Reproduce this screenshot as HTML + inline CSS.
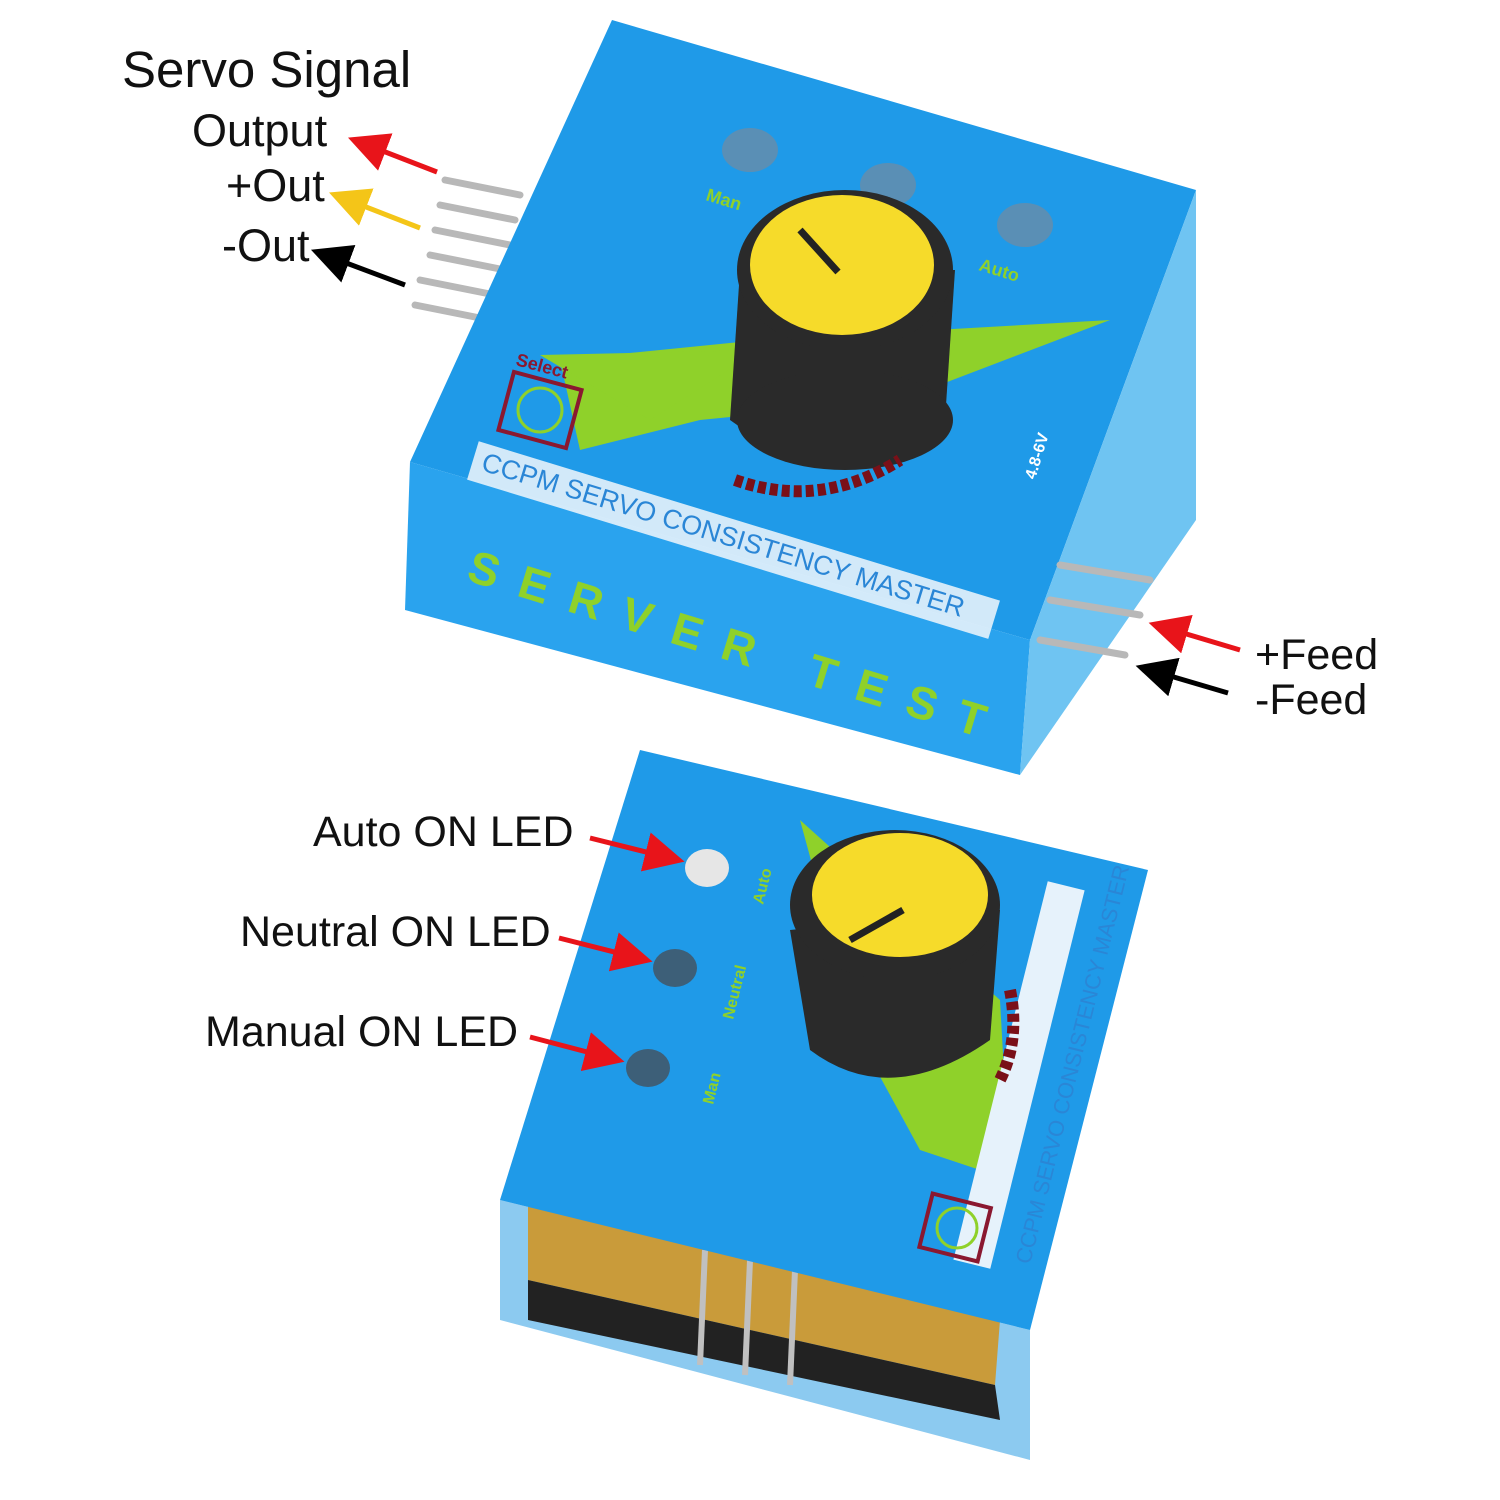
<!DOCTYPE html>
<html><head><meta charset="utf-8"><style>
html,body{margin:0;padding:0;background:#fff}
svg{display:block}
text{font-family:"Liberation Sans",sans-serif}
</style></head><body>
<svg width="1500" height="1500" viewBox="0 0 1500 1500" xmlns="http://www.w3.org/2000/svg">
<defs>
<marker id="ar" markerWidth="8" markerHeight="8" refX="5" refY="4" orient="auto"><path d="M0,0 L8,4 L0,8 z" fill="#e8141a"/></marker>
<marker id="ay" markerWidth="8" markerHeight="8" refX="5" refY="4" orient="auto"><path d="M0,0 L8,4 L0,8 z" fill="#f4c518"/></marker>
<marker id="ak" markerWidth="8" markerHeight="8" refX="5" refY="4" orient="auto"><path d="M0,0 L8,4 L0,8 z" fill="#000"/></marker>
</defs>
<g stroke="#b8b8b8" stroke-width="7" stroke-linecap="round">
<line x1="445" y1="180" x2="520" y2="195"/><line x1="440" y1="205" x2="515" y2="220"/>
<line x1="435" y1="230" x2="510" y2="245"/><line x1="430" y1="255" x2="505" y2="270"/>
<line x1="420" y1="280" x2="495" y2="295"/><line x1="415" y1="305" x2="490" y2="320"/>
</g>
<polygon points="612,20 1196,190 1030,640 410,462" fill="#1f9ae8"/>
<polygon points="410,462 1030,640 1020,775 405,610" fill="#2aa3ee"/>
<polygon points="1196,190 1196,520 1020,775 1030,640" fill="#6fc4f2"/>
<g stroke="#b8b8b8" stroke-width="7" stroke-linecap="round">
<line x1="1060" y1="565" x2="1150" y2="580"/><line x1="1050" y1="600" x2="1140" y2="615"/><line x1="1040" y1="640" x2="1125" y2="655"/>
</g>
<polygon points="560,360 760,340 1110,320 900,400 700,420 580,450" fill="#8fd12a"/>
<polygon points="540,355 760,350 650,420" fill="#8fd12a"/>
<rect x="470" y="440" width="545" height="40" transform="rotate(17 470 470)" fill="#e6f2fb" opacity="0.9"/>
<text x="480" y="470" transform="rotate(17 480 470)" font-size="27" fill="#2a86d6">CCPM SERVO CONSISTENCY MASTER</text>
<text x="465" y="580" transform="rotate(17 465 580)" font-size="46" font-weight="bold" fill="#8fd12a" letter-spacing="22">SERVER TEST</text>
<ellipse cx="750" cy="150" rx="28" ry="22" fill="#5a8fb5"/>
<ellipse cx="888" cy="185" rx="28" ry="22" fill="#5a8fb5"/>
<ellipse cx="1025" cy="225" rx="28" ry="22" fill="#5a8fb5"/>
<text x="705" y="200" transform="rotate(17 705 200)" font-size="18" font-weight="bold" fill="#8fd12a">Man</text>
<text x="978" y="270" transform="rotate(17 978 270)" font-size="18" font-weight="bold" fill="#8fd12a">Auto</text>
<rect x="505" y="380" width="70" height="60" fill="none" stroke="#8a1830" stroke-width="4" transform="rotate(15 540 410)"/>
<circle cx="540" cy="410" r="22" fill="none" stroke="#8fd12a" stroke-width="3"/>
<text x="515" y="365" transform="rotate(15 515 365)" font-size="18" font-weight="bold" fill="#8a1830">Select</text>
<path d="M740,270 L730,420 Q840,500 945,420 L955,270 Z" fill="#2a2a2a"/>
<ellipse cx="845" cy="420" rx="108" ry="50" fill="#2a2a2a"/>
<ellipse cx="845" cy="270" rx="108" ry="80" fill="#2a2a2a"/>
<ellipse cx="842" cy="265" rx="92" ry="70" fill="#f6db2a"/>
<line x1="800" y1="230" x2="838" y2="272" stroke="#222" stroke-width="7"/>
<path d="M735,480 Q820,510 900,460" stroke="#7a1018" stroke-width="12" fill="none" stroke-dasharray="8 4"/>
<text x="1035" y="480" transform="rotate(-73 1035 480)" font-size="16" font-weight="bold" fill="#fff">4.8-6V</text>
<polygon points="500,1200 1030,1330 1030,1460 500,1320" fill="#8ccaf0"/>
<polygon points="528,1205 1000,1320 995,1385 528,1280" fill="#c99b3a"/>
<polygon points="528,1280 995,1385 1000,1420 528,1320" fill="#222"/>
<g stroke="#c0c0c0" stroke-width="6"><line x1="705" y1="1250" x2="700" y2="1365"/><line x1="750" y1="1260" x2="745" y2="1375"/><line x1="795" y1="1270" x2="790" y2="1385"/></g>
<polygon points="640,750 1148,870 1030,1330 500,1200" fill="#1f9ae8"/>
<polygon points="800,820 1000,1000 1010,1180 920,1150 860,1040" fill="#8fd12a"/>
<rect x="1000" y="880" width="38" height="390" fill="#e6f2fb" transform="rotate(14 1019 1075)"/>
<text x="1030" y="1265" transform="rotate(-76 1030 1265)" font-size="22" fill="#2a86d6">CCPM SERVO CONSISTENCY MASTER</text>
<ellipse cx="707" cy="868" rx="22" ry="19" fill="#e6e6e6"/>
<ellipse cx="675" cy="968" rx="22" ry="19" fill="#3d5f78"/>
<ellipse cx="648" cy="1068" rx="22" ry="19" fill="#3d5f78"/>
<text x="763" y="905" transform="rotate(-76 763 905)" font-size="16" font-weight="bold" fill="#8fd12a">Auto</text>
<text x="733" y="1020" transform="rotate(-76 733 1020)" font-size="16" font-weight="bold" fill="#8fd12a">Neutral</text>
<text x="713" y="1105" transform="rotate(-76 713 1105)" font-size="16" font-weight="bold" fill="#8fd12a">Man</text>
<rect x="925" y="1200" width="60" height="55" fill="none" stroke="#8a1830" stroke-width="4" transform="rotate(14 955 1228)"/>
<circle cx="957" cy="1228" r="20" fill="none" stroke="#8fd12a" stroke-width="3"/>
<path d="M790,930 L810,1050 Q890,1110 990,1040 L1000,910 Z" fill="#2a2a2a"/>
<ellipse cx="895" cy="905" rx="105" ry="75" fill="#2a2a2a"/>
<ellipse cx="900" cy="895" rx="88" ry="62" fill="#f6db2a"/>
<line x1="850" y1="940" x2="903" y2="910" stroke="#222" stroke-width="7"/>
<path d="M1010,990 Q1020,1040 1000,1080" stroke="#7a1018" stroke-width="12" fill="none" stroke-dasharray="8 4"/>
<text x="122" y="87" font-size="51" fill="#111">Servo Signal</text>
<g font-size="45" fill="#111">
<text x="192" y="146">Output</text>
<text x="226" y="201">+Out</text>
<text x="222" y="261">-Out</text>
</g>
<g font-size="43" fill="#111">
<text x="1255" y="669">+Feed</text>
<text x="1255" y="714">-Feed</text>
<text x="313" y="846">Auto ON LED</text>
<text x="240" y="946">Neutral ON LED</text>
<text x="205" y="1046">Manual ON LED</text>
</g>
<g stroke-width="5">
<line x1="437" y1="172" x2="362" y2="143" stroke="#e8141a" marker-end="url(#ar)"/>
<line x1="420" y1="228" x2="343" y2="198" stroke="#f4c518" marker-end="url(#ay)"/>
<line x1="405" y1="285" x2="325" y2="255" stroke="#000" marker-end="url(#ak)"/>
<line x1="1240" y1="650" x2="1163" y2="627" stroke="#e8141a" marker-end="url(#ar)"/>
<line x1="1228" y1="693" x2="1150" y2="670" stroke="#000" marker-end="url(#ak)"/>
<line x1="590" y1="838" x2="670" y2="858" stroke="#e8141a" marker-end="url(#ar)"/>
<line x1="559" y1="938" x2="638" y2="958" stroke="#e8141a" marker-end="url(#ar)"/>
<line x1="530" y1="1037" x2="610" y2="1058" stroke="#e8141a" marker-end="url(#ar)"/>
</g>
</svg>
</body></html>
